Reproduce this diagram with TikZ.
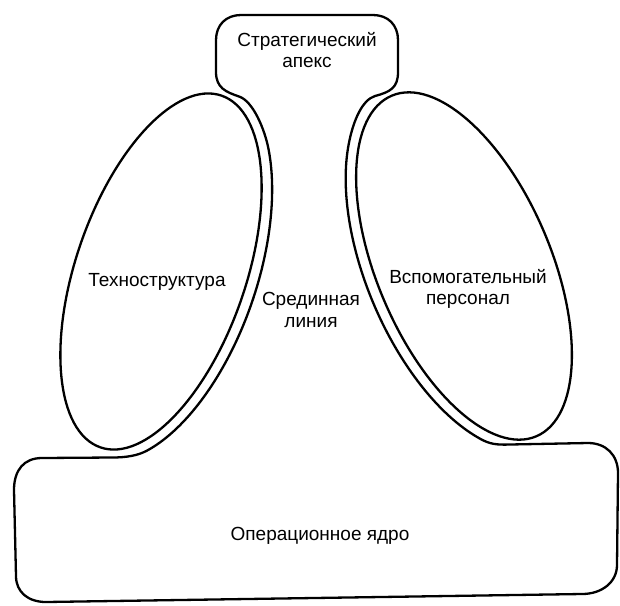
\documentclass[tikz,border=0pt]{standalone}
\usepackage{fontspec}
\setmainfont{Liberation Sans}
\begin{document}
\begin{tikzpicture}[x=1pt,y=-1pt,
  outline/.style={draw=black,line width=2.3pt,line join=round,line cap=round},
  lbl/.style={font=\fontsize{19}{21.5}\selectfont,align=center,inner sep=0pt}]
\useasboundingbox (0,0) rectangle (620,605);
% single outline: apex, middle line and operating core
\draw[outline]
  (216,40) .. controls (216,25) and (226,15) .. (241,15)
  -- (373,15) .. controls (388,15) and (398,25) .. (398,40)
  -- (398,72) .. controls (398,88) and (390,92) .. (375,96)
  .. controls (362,100) and (353.7,120.7) .. (349.5,140.2)
  -- plot[domain=125:238,samples=80] ({464+90.21*cos(\x)-76.58*sin(\x)},{266-38.29*cos(\x)-180.42*sin(\x)})
  .. controls (489.9,444.1) and (497,445) .. (510,444.5)
  -- (588,443) .. controls (606,443) and (618,455) .. (618,473)
  -- (617,565) .. controls (617,582) and (602,594) .. (582,594)
  -- (46,602) .. controls (28,602) and (16,592) .. (16,576)
  -- (14,490) .. controls (14,470) and (24,458) .. (42,458)
  -- (112,457.5) .. controls (127,457.5) and (138.2,455.4) .. (147.0,450.6)
  -- plot[domain=-62:50,samples=80] ({161+90.77*cos(\x)+64.14*sin(\x)},{271.5+31.26*cos(\x)-186.26*sin(\x)})
  .. controls (264.7,129.3) and (253,101) .. (239,96.5)
  .. controls (226,92) and (216,88) .. (216,72)
  -- cycle;
% technostructure and support staff
\draw[outline,rotate around={-19:(161,271.5)}] (161,271.5) ellipse [x radius=85pt,y radius=186pt];
\draw[outline,rotate around={23:(464,266)}] (464,266) ellipse [x radius=87pt,y radius=185pt];
% labels
\node[lbl] (apex) at (307,50) {Стратегический\\апекс};
\node[lbl] (tech) at (157,282) {Техноструктура};
\node[lbl] (mid) at (311,310) {Срединная\\линия};
\node[lbl] (supp) at (468,289) {Вспомогательный\\персонал};
\node[lbl] (core) at (320,535.5) {Операционное ядро};
\end{tikzpicture}
\end{document}
